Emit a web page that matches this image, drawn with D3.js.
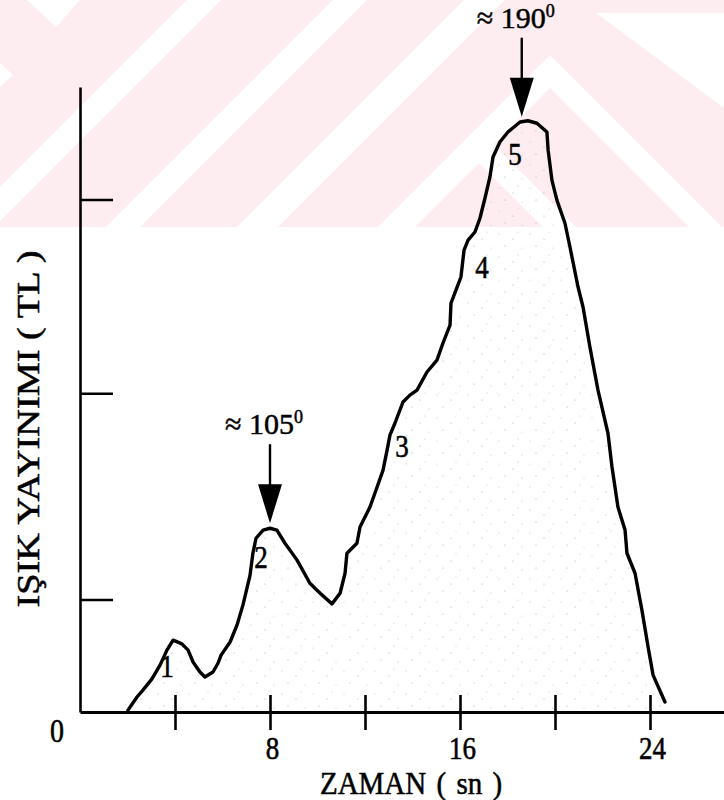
<!DOCTYPE html>
<html>
<head>
<meta charset="utf-8">
<script src="https://cdn.jsdelivr.net/npm/d3@7"></script>
<style>
  html, body { margin: 0; padding: 0; background: #fff; }
  svg { display: block; }
</style>
</head>
<body>
<script>
// Thermoluminescence glow curve: light emission (TL, arbitrary units) against heating time (s)
const timeSec = [2.02, 2.40, 2.65, 3.03, 3.37, 3.66, 3.92, 4.29, 4.55, 4.76, 5.05, 5.26, 5.60, 5.81, 5.94,
  6.32, 6.61, 6.86, 7.16, 7.28, 7.41, 7.71, 8.00, 8.29, 8.63, 9.14, 9.68, 10.11, 10.61, 10.95, 11.16,
  11.24, 11.66, 11.79, 12.21, 12.51, 12.76, 12.93, 13.05, 13.26, 13.60, 13.89, 14.19, 14.61, 15.03,
  15.28, 15.58, 15.62, 15.83, 16.04, 16.17, 16.34, 16.63, 16.84, 17.05, 17.26, 17.39, 17.68, 18.02,
  18.53, 18.86, 19.24, 19.66, 19.71, 19.87, 20.08, 20.42, 20.63, 20.97, 21.18, 21.47, 21.81, 22.23,
  22.40, 22.65, 22.95, 23.03, 23.37, 23.66, 23.92, 24.13, 24.63];
const emission = [0.3, 2.4, 3.5, 5.3, 7.5, 9.9, 11.5, 10.9, 9.9, 8.0, 6.4, 5.6, 6.4, 7.8, 9.1,
  11.2, 13.9, 17.1, 21.9, 25.4, 27.8, 29.1, 29.4, 29.1, 27.0, 24.3, 20.6, 19.0, 17.3, 19.0, 22.2,
  25.4, 27.0, 29.6, 32.8, 36.0, 38.7, 41.9, 44.3, 46.2, 49.6, 50.7, 51.5, 54.4, 56.3,
  59.0, 61.9, 65.4, 67.5, 69.6, 73.9, 75.5, 76.8, 79.0, 82.2, 85.6, 88.8, 91.2, 92.8,
  94.4, 94.6, 94.2, 92.8, 89.9, 85.1, 81.9, 78.2, 74.4, 68.0, 64.8, 58.4, 51.5, 44.6,
  39.2, 32.8, 29.1, 25.4, 22.2, 16.3, 10.4, 5.9, 1.6];

const xTickValues = [4, 8, 12, 16, 20, 24];
const xTickLabels = ["", "8", "", "16", "", "24"];
const yTickValues = [18, 51, 82];

// numbered glow peaks, anchored in data units
const peakNumbers = ["1", "2", "3", "4", "5"];
const peakNumberTime = [3.66, 7.62, 13.56, 16.93, 18.32];
const peakNumberLevel = [5.6, 23.0, 40.8, 69.4, 87.5];

// peak temperatures marked with arrows
const tempLabels = ["\u2248 105", "\u2248 190"];
const tempPeakTime = [8.0, 18.6];

const xTitle = "ZAMAN ( sn )";
const yTitle = "IŞIK YAYINIMI ( TL )";
const originLabel = "0";

const W = 724, H = 800;
const serif = "'Liberation Serif', 'Times New Roman', serif";
const ink = "#000";

const svg = d3.select("body").append("svg")
  .attr("width", W).attr("height", H)
  .attr("viewBox", `0 0 ${W} ${H}`);

// printed text looks slightly heavy: give glyphs a thin outline
const styleText = sel => sel
  .attr("font-family", serif).attr("fill", ink)
  .attr("stroke", ink).attr("stroke-width", 0.5);

// ---- light pink background band with white chevrons ----
const band = svg.append("g");
band.append("rect").attr("x", 0).attr("y", 0).attr("width", W).attr("height", 227).attr("fill", "#fdedf0");
const defs = svg.append("defs");
defs.append("clipPath").attr("id", "bandClip")
  .append("rect").attr("x", 0).attr("y", 0).attr("width", W).attr("height", 227);
const whiteShapes = [
  [[187, 0], [221, 0], [-6, 227], [-40, 227]],
  [[333, 0], [367, 0], [140, 227], [106, 227]],
  [[464, 0], [505, 0], [278, 227], [237, 227]],
  [[27, 0], [80, 0], [56, 27]],
  [[0, 63], [13, 75], [0, 87]],
  [[550, 55], [722, 227], [689, 227], [550, 88], [411, 227], [378, 227]],
  [[479, 130], [576, 227], [543, 227], [479, 163], [415, 227], [382, 227]],
  [[596, 13], [724, 13], [724, 108]]
];
band.append("g").attr("clip-path", "url(#bandClip)")
  .selectAll("polygon").data(whiteShapes).join("polygon")
  .attr("points", d => d.map(p => p.join(",")).join(" "))
  .attr("fill", "#ffffff");

// ---- scales ----
const x = d3.scaleLinear().domain([0, (W - 80) / 23.75]).range([80, W]);
const y = d3.scaleLinear().domain([0, 100]).range([712, 87]);

// ---- stippled fill under the curve ----
const pat = defs.append("pattern").attr("id", "stipple")
  .attr("patternUnits", "userSpaceOnUse").attr("width", 31).attr("height", 23);
[[3, 4], [17, 9], [26, 18], [9, 16], [22, 2]].forEach(([cx, cy], i) => {
  pat.append("circle").attr("cx", cx).attr("cy", cy).attr("r", 0.6)
    .attr("fill", i % 2 ? "#a8a8a8" : "#c4c4c4");
});

const pts = timeSec.map((t, i) => [t, emission[i]]);

svg.append("path")
  .datum(pts)
  .attr("fill", "url(#stipple)")
  .attr("d", d3.area().x(d => x(d[0])).y0(y(0)).y1(d => y(d[1])));

// ---- axes ----
const xAxis = svg.append("g")
  .attr("transform", `translate(0,${y(0)})`)
  .call(d3.axisBottom(x).tickValues(xTickValues)
    .tickFormat((d, i) => xTickLabels[i]).tickSize(18).tickSizeOuter(0));
xAxis.select(".domain").attr("stroke", ink).attr("stroke-width", 3);
xAxis.selectAll(".tick line").attr("y1", -17).attr("y2", 18)
  .attr("stroke", ink).attr("stroke-width", 2.6);
xAxis.selectAll(".tick text")
  .attr("y", 0).attr("dy", 0)
  .attr("transform", "translate(2,47) scale(1,1.18)")
  .attr("font-size", 27)
  .call(styleText);

const yAxis = svg.append("g")
  .attr("transform", `translate(${x(0)},0)`)
  .call(d3.axisLeft(y).tickValues(yTickValues).tickFormat("").tickSizeInner(-33).tickSizeOuter(0));
yAxis.select(".domain").attr("stroke", ink).attr("stroke-width", 2.6);
yAxis.selectAll(".tick line").attr("stroke", ink).attr("stroke-width", 2.4);

// ---- glow curve ----
svg.append("path")
  .datum(pts)
  .attr("fill", "none")
  .attr("stroke", ink)
  .attr("stroke-width", 3.4)
  .attr("stroke-linejoin", "round")
  .attr("stroke-linecap", "round")
  .attr("d", d3.line().x(d => x(d[0])).y(d => y(d[1])));

// ---- peak numbers ----
svg.append("g").selectAll("text").data(peakNumbers).join("text")
  .attr("transform", (d, i) => `translate(${x(peakNumberTime[i])},${y(peakNumberLevel[i])}) scale(1,1.2)`)
  .attr("text-anchor", "middle")
  .attr("font-size", 27)
  .call(styleText)
  .text(d => d);

// ---- temperature arrows ----
const levelAt = t => {
  const i = d3.bisector(d => d).left(timeSec, t);
  if (i <= 0) return emission[0];
  const t0 = timeSec[i - 1], t1 = timeSec[i];
  return emission[i - 1] + (emission[i] - emission[i - 1]) * (t - t0) / (t1 - t0);
};
const arrows = svg.append("g");
tempLabels.forEach((lab, i) => {
  const ax = x(tempPeakTime[i]);
  const tip = y(levelAt(tempPeakTime[i])) - 5;
  arrows.append("line")
    .attr("x1", ax).attr("x2", ax).attr("y1", tip - 79).attr("y2", tip - 36)
    .attr("stroke", ink).attr("stroke-width", 2.4);
  arrows.append("path")
    .attr("d", `M${ax - 12},${tip - 39}L${ax + 12},${tip - 39}L${ax},${tip}Z`)
    .attr("fill", ink);
  const t = arrows.append("text")
    .attr("x", ax - 6).attr("y", tip - 89)
    .attr("text-anchor", "middle")
    .attr("font-size", 30)
    .call(styleText);
  t.append("tspan").text(lab);
  t.append("tspan").attr("font-size", 18).attr("dy", -11).text("0");
});

// ---- axis titles and origin ----
svg.append("text")
  .attr("transform", "translate(411,794) scale(1,1.1)")
  .attr("text-anchor", "middle")
  .attr("font-size", 29)
  .attr("word-spacing", 3)
  .call(styleText)
  .text(xTitle);

svg.append("text")
  .attr("transform", "translate(39,429) rotate(-90)")
  .attr("text-anchor", "middle")
  .attr("font-size", 32)
  .attr("textLength", 357).attr("lengthAdjust", "spacingAndGlyphs")
  .call(styleText)
  .text(yTitle);

svg.append("text")
  .attr("transform", "translate(57,742) scale(1,1.2)")
  .attr("text-anchor", "middle")
  .attr("font-size", 28)
  .call(styleText)
  .text(originLabel);
</script>
</body>
</html>
